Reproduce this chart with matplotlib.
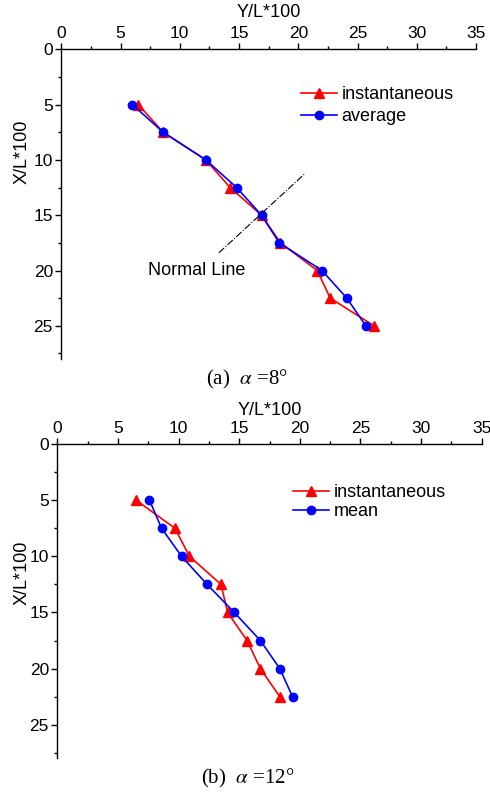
import matplotlib
matplotlib.use("Agg")
import matplotlib.pyplot as plt
from matplotlib.ticker import MultipleLocator

plt.rcParams['font.family'] = ['Liberation Sans', 'DejaVu Sans']
plt.rcParams['mathtext.fontset'] = 'stix'

# panel (a) alpha = 8
xl_a = [5, 7.5, 10, 12.5, 15, 17.5, 20, 22.5, 25]
inst_a = [6.5, 8.6, 12.2, 14.25, 16.9, 18.5, 21.6, 22.7, 26.4]
avg_a = [6.0, 8.6, 12.2, 14.8, 16.9, 18.4, 22.0, 24.1, 25.7]
normal_y = [13.3, 20.5]
normal_x = [18.4, 11.3]

# panel (b) alpha = 12
xl_b = [5, 7.5, 10, 12.5, 15, 17.5, 20, 22.5]
inst_b = [6.5, 9.7, 10.9, 13.5, 14.05, 15.65, 16.75, 18.35]
mean_b = [7.6, 8.6, 10.25, 12.35, 14.6, 16.75, 18.35, 19.4]

W, H = 490, 796
fig = plt.figure(figsize=(W / 100, H / 100), dpi=100)


def px_axes(l, t, r, b):
    return fig.add_axes([l / W, 1 - b / H, (r - l) / W, (b - t) / H])


def setup(ax, label_x, label_y, pad):
    ax.set_xlim(0, 35)
    ax.set_ylim(28, 0)
    ax.xaxis.tick_top()
    ax.xaxis.set_label_position('top')
    ax.spines['right'].set_visible(False)
    ax.spines['bottom'].set_visible(False)
    for s in ['left', 'top']:
        ax.spines[s].set_linewidth(1.0)
    ax.xaxis.set_major_locator(MultipleLocator(5))
    ax.xaxis.set_minor_locator(MultipleLocator(2.5))
    ax.yaxis.set_major_locator(MultipleLocator(5))
    ax.yaxis.set_minor_locator(MultipleLocator(2.5))
    ax.tick_params(which='major', direction='out', length=4, width=1, labelsize=12.5, pad=2)
    ax.tick_params(which='minor', direction='out', length=2.5, width=1)
    ax.set_xlabel('Y/L*100', fontsize=13, labelpad=pad)
    ax.set_ylabel('X/L*100', fontsize=13)
    ax.yaxis.set_label_coords(label_x, label_y)


ax1 = px_axes(61.3, 49.3, 476, 359)
setup(ax1, -0.075, 0.67, 6.5)
ax1.plot(inst_a, xl_a, color='#ff0000', marker='^', ms=7, lw=1.2, label='instantaneous')
ax1.plot(avg_a, xl_a, color='#0000ff', marker='o', ms=6, lw=1.2, label='average')
ax1.plot(normal_y, normal_x, color='black', ls='-.', lw=0.8)
ax1.text(7.3, 20.0, 'Normal Line', fontsize=13, va='center', ha='left')
ax1.legend(loc='upper left', bbox_to_anchor=(292 / W, 1 - 77 / H), bbox_transform=fig.transFigure,
           frameon=False, fontsize=13, handlelength=2.0, handletextpad=0.25, borderpad=0,
           labelspacing=0.3)
fig.text(247 / W, 1 - 379 / H, r'(a)  $\alpha$ =8°', family='Liberation Serif', fontsize=15,
         ha='center', va='center')

ax2 = px_axes(57.3, 444, 481.7, 758.5)
setup(ax2, -0.064, 0.59, 4.0)
ax2.plot(inst_b, xl_b, color='#ff0000', marker='^', ms=7, lw=1.2, label='instantaneous')
ax2.plot(mean_b, xl_b, color='#0000ff', marker='o', ms=6, lw=1.2, label='mean')
ax2.legend(loc='upper left', bbox_to_anchor=(284 / W, 1 - 475 / H), bbox_transform=fig.transFigure,
           frameon=False, fontsize=13, handlelength=2.0, handletextpad=0.25, borderpad=0,
           labelspacing=0.1)
fig.text(248 / W, 1 - 778 / H, r'(b)  $\alpha$ =12°', family='Liberation Serif', fontsize=15,
         ha='center', va='center')

fig.savefig('out.png', dpi=100)
